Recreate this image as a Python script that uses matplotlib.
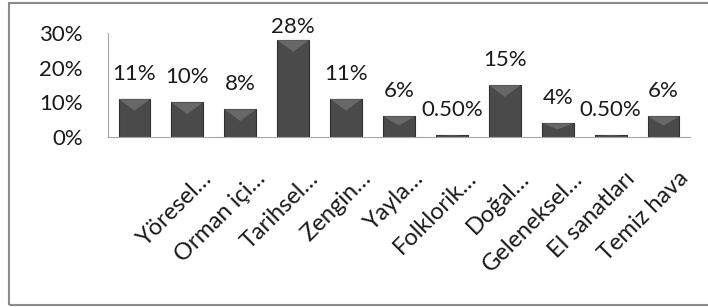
import matplotlib
matplotlib.use("Agg")
import matplotlib.pyplot as plt
import matplotlib.transforms as mtransforms
from matplotlib.patches import Polygon, Rectangle

# data
values = [11, 10, 8, 28, 11, 6, 0.5, 15, 4, 0.5, 6]
value_labels = ["11%", "10%", "8%", "28%", "11%", "6%", "0.50%", "15%", "4%", "0.50%", "6%"]
categories = ["", "Yöresel…", "Orman içi…", "Tarihsel…", "Zengin…", "Yayla…",
              "Folklorik…", "Doğal…", "Geleneksel…", "El sanatları", "Temiz hava"]
yticks = [0, 10, 20, 30]
ytick_labels = ["0%", "10%", "20%", "30%"]

plt.rcParams['font.family'] = ['Lato', 'DejaVu Sans']

fig = plt.figure(figsize=(7.08, 3.07), dpi=100)
ax = fig.add_axes([108 / 708, 1 - 137 / 307, 582 / 708, 104 / 307])

x = list(range(len(values)))
bw = 0.6
ax.bar(x, values, width=bw, color='#4a4a4a', edgecolor='#2f2f2f', linewidth=0.8, zorder=2)

# bevel highlight on top of each bar
for xi, v in zip(x, values):
    d = min(3.4, v * 0.45)
    tri = Polygon([(xi - bw / 2, v), (xi + bw / 2, v), (xi, v - d)],
                  closed=True, facecolor='#7d7d7d', edgecolor='none', alpha=0.6, zorder=3)
    ax.add_patch(tri)

# value labels above bars (kept inside the chart area like the original)
for xi, v, lab in zip(x, values, value_labels):
    ax.text(xi, min(v + 7.2, 31.7), lab, ha='center', va='center', fontsize=16, color='#1a1a1a')

ax.set_xlim(-0.5, len(values) - 0.5)
ax.set_ylim(0, 30)
ax.set_yticks(yticks)
ax.set_yticklabels(ytick_labels, fontsize=16, color='#1a1a1a')
ax.tick_params(axis='y', length=0, pad=18)
ax.set_xticks(x)
ax.set_xticklabels(categories, rotation=45, ha='right', va='top',
                   rotation_mode='anchor', fontsize=17, color='#1a1a1a')
ax.tick_params(axis='x', length=0, pad=22)
offset = mtransforms.ScaledTranslation(14 / 100, 0, fig.dpi_scale_trans)
for lab in ax.get_xticklabels():
    lab.set_transform(lab.get_transform() + offset)

for s in ['top', 'right']:
    ax.spines[s].set_visible(False)
ax.spines['left'].set_color('#a6a6a6')
ax.spines['bottom'].set_color('#a6a6a6')

# outer chart border (right side runs off the picture)
fig.patches.append(Rectangle((9 / 708, 2 / 307), 1.0, 302 / 307, transform=fig.transFigure,
                             fill=False, edgecolor='#8c8c8c', linewidth=1.5))

fig.savefig("out.png", dpi=100)
